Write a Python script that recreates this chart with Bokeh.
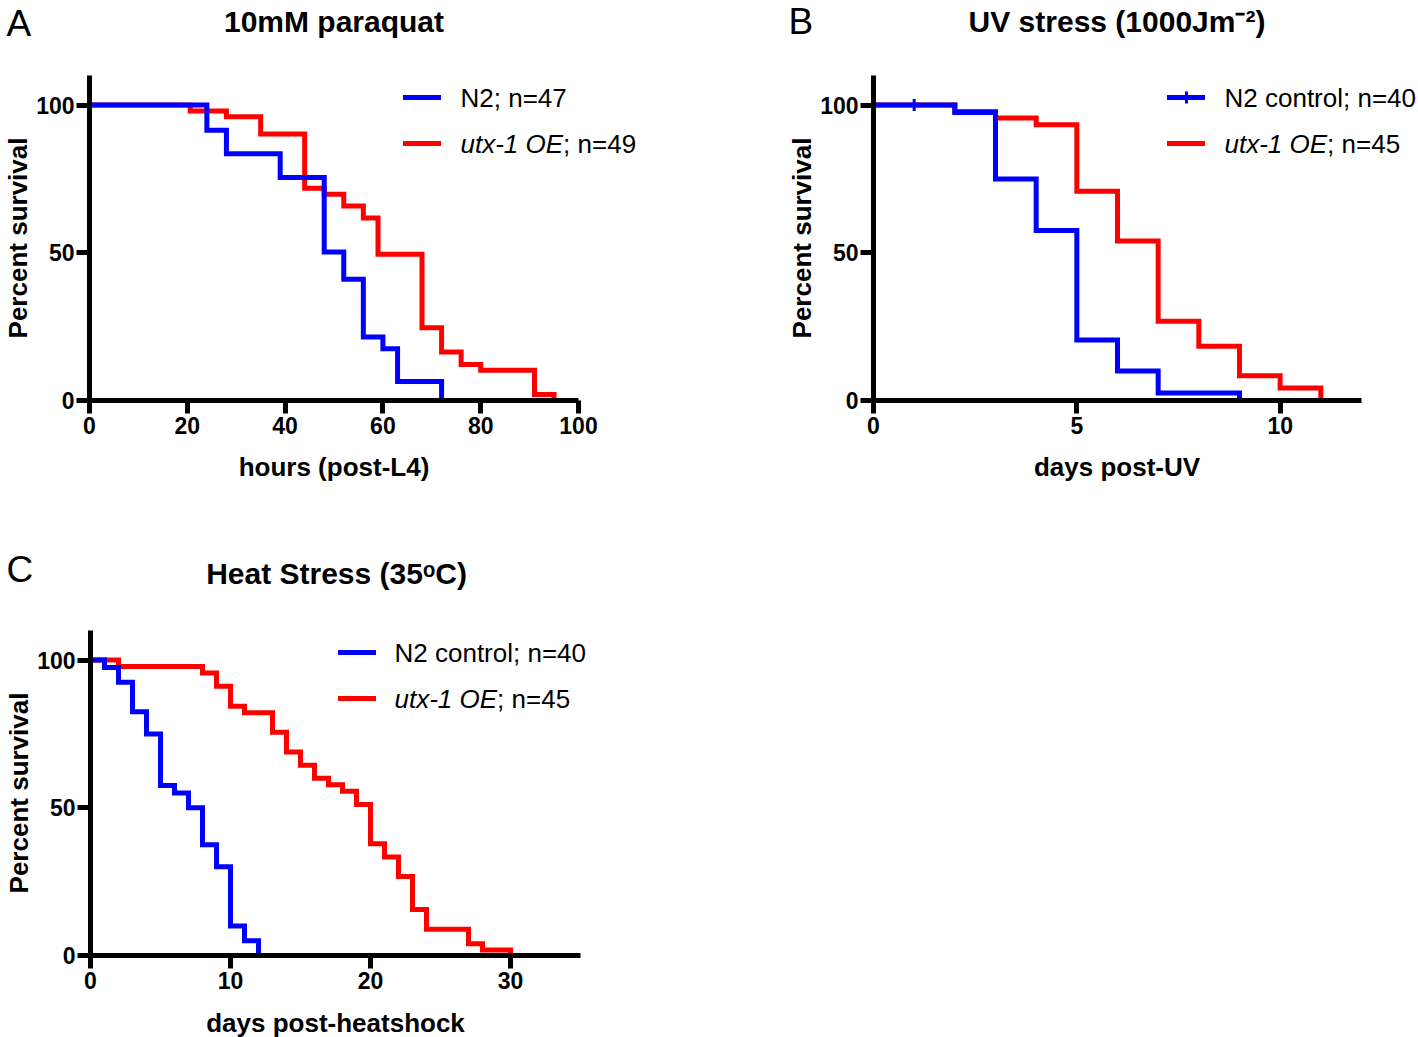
from bokeh.plotting import figure
from bokeh.models import FixedTicker, Label, Legend, LegendItem, Range1d
from bokeh.layouts import column, row
from bokeh.embed import file_html
from bokeh.resources import INLINE
from bokeh.core.properties import value

# ---------------- data ----------------
# Panel A: 10mM paraquat, hours post-L4
A_N2_t = [0, 24, 28, 39, 48, 52, 56, 60, 63, 72]
A_N2_s = [100, 91.5, 83.5, 75.5, 50.3, 41.0, 21.5, 17.5, 6.4, 0]
A_OE_t = [0, 20.6, 28, 35, 44, 48, 52, 56, 59, 68, 72, 76, 80, 91, 95]
A_OE_s = [100, 98.0, 96.0, 90.2, 71.8, 69.8, 65.8, 61.8, 49.5, 24.6, 16.4, 12.2, 10.2, 2.0, 0]
A_xticks = [0, 20, 40, 60, 80, 100]

# Panel B: UV stress, days post-UV
B_N2_t = [0, 2, 3, 4, 5, 6, 7, 9]
B_N2_s = [100, 97.5, 75.0, 57.5, 20.5, 10.0, 2.5, 0]
B_N2_cens_t = [1]
B_N2_cens_s = [100]
B_OE_t = [0, 2, 3, 4, 5, 6, 7, 8, 9, 10, 11]
B_OE_s = [100, 97.8, 95.6, 93.3, 70.8, 54.0, 26.8, 18.4, 8.4, 4.2, 0]
B_xticks = [0, 5, 10]

# Panel C: heat stress, days post-heatshock
C_N2_t = [0, 1, 2, 3, 4, 5, 6, 7, 8, 9, 10, 11, 12]
C_N2_s = [100, 97.5, 92.5, 82.5, 75.0, 57.5, 55.0, 50.0, 37.5, 30.0, 10.0, 5.0, 0]
C_OE_t = [0, 2, 8, 9, 10, 11, 13, 14, 15, 16, 17, 18, 19, 20, 21, 22, 23, 24, 27, 28, 30]
C_OE_s = [100, 97.8, 95.6, 91.1, 84.4, 82.2, 75.6, 68.9, 64.4, 60.0, 57.8, 55.6, 51.1,
          37.8, 33.3, 26.7, 15.6, 8.9, 4.0, 1.9, 0]
C_xticks = [0, 10, 20, 30]

Y_TICKS = [0, 50, 100]

FONT = "Liberation Sans"
BLUE = "#0000FF"
RED = "#FF0000"


def strip(width, height, items):
    """Text-only strip; items are (x, y_middle, text, size, style, align) in strip pixels."""
    h = figure(width=width, height=height, min_border=0,
               x_range=Range1d(0, width), y_range=Range1d(0, height),
               x_axis_type=None, y_axis_type=None,
               output_backend="svg", toolbar_location=None, tools="")
    h.outline_line_color = None
    h.xgrid.visible = False
    h.ygrid.visible = False
    for (x, y, text, size, style, align) in items:
        h.add_layout(Label(x=x, y=height - y, text=text, text_font=FONT,
                           text_font_size=f"{size}px", text_font_style=style,
                           text_align=align, text_baseline="middle",
                           text_color="black"))
    return h


def panel(g, n2_t, n2_s, oe_t, oe_s, cens_t, cens_s, n2_label, oe_rest):
    kx = g["kx"]
    ky = g["H"] / 110.0
    fw = g["fig_w"] - g["bl"]
    p = figure(frame_width=fw, frame_height=g["H"],
               min_border_left=g["bl"], min_border_top=g["bt"],
               min_border_right=0, min_border_bottom=g["bb"],
               x_range=Range1d(0, fw / kx), y_range=Range1d(0, 110),
               output_backend="svg", toolbar_location=None, tools="")
    p.outline_line_color = None
    p.xgrid.visible = False
    p.ygrid.visible = False
    for ax in (p.xaxis[0], p.yaxis[0]):
        ax.axis_line_width = 5
        ax.axis_line_color = "black"
        ax.major_tick_line_width = 5
        ax.major_tick_line_color = "black"
        ax.major_tick_out = 13
        ax.major_tick_in = 0
        ax.minor_tick_line_color = None
        ax.major_label_text_font = FONT
        ax.major_label_text_font_size = "23px"
        ax.major_label_text_font_style = "bold"
        ax.major_label_text_color = "black"
        ax.major_label_standoff = 2
        ax.axis_label_text_font = FONT
        ax.axis_label_text_font_size = "26px"
        ax.axis_label_text_font_style = "bold"
        ax.axis_label_text_color = "black"
    p.xaxis.major_label_standoff = 3
    p.xaxis.ticker = FixedTicker(ticks=g["xticks"])
    p.yaxis.ticker = FixedTicker(ticks=Y_TICKS)
    p.xaxis.bounds = (0, g["xmax"])
    p.yaxis.bounds = (0, 110)
    p.yaxis.axis_label = "Percent survival"
    p.yaxis.axis_label_standoff = 0

    r_oe = p.step(oe_t, oe_s, mode="after", line_color=RED, line_width=5,
                  line_join="miter", line_cap="round")
    r_n2 = p.step(n2_t, n2_s, mode="after", line_color=BLUE, line_width=5,
                  line_join="miter", line_cap="round")
    c_n2 = p.scatter(cens_t, cens_s, marker="cross", size=12, line_color=BLUE, line_width=3)

    FL, FB = g["FL"], g["FB"]
    leg = Legend(items=[LegendItem(label=value(" "), renderers=[r_n2, c_n2]),
                        LegendItem(label=value(" "), renderers=[r_oe])],
                 location=(g["lx"] - FL, FB - (g["ly"] - 15 + 76)),
                 orientation="vertical", padding=0, margin=0, spacing=16,
                 glyph_width=38, glyph_height=30, label_standoff=0,
                 label_width=0, label_height=30, label_text_font_size="1px",
                 background_fill_alpha=0, border_line_color=None)
    p.add_layout(leg)

    def txt(sx, sy, text, style):
        p.add_layout(Label(x=(sx - FL) / kx, y=(FB - sy) / ky, text=text,
                           text_font=FONT, text_font_size="26px", text_font_style=style,
                           text_align="left", text_baseline="middle", text_color="black"))

    tx, ly = g["tx"], g["ly"]
    txt(tx, ly, n2_label, "normal")
    txt(tx, ly + 46, "utx-1 OE", "italic")
    txt(tx + 102.6, ly + 46, oe_rest, "normal")
    return p


# geometry, in pixels of the photo
gA = dict(FL=89, FB=400 - 70, H=325, kx=4.89, xmax=100, xticks=A_xticks, fig_w=780,
          bl=89, bt=5, bb=45, lx=403, ly=97 - 70, tx=460)
gB = dict(FL=873 - 780, FB=400 - 70, H=325, kx=488 / 12, xmax=12, xticks=B_xticks, fig_w=638,
          bl=93, bt=5, bb=45, lx=1167 - 780, ly=97 - 70, tx=1224 - 780)
gC = dict(FL=90, FB=955 - 625, H=325, kx=14.0, xmax=35, xticks=C_xticks, fig_w=780,
          bl=90, bt=5, bb=45, lx=338, ly=652 - 625, tx=394)

top_strip = strip(1418, 70, [(6, 22.5, "A", 37, "normal", "left"),
                             (333.5, 21, "10mM paraquat", 30, "bold", "center"),
                             (788, 20.5, "B", 37, "normal", "left"),
                             (1116.5, 21, "UV stress (1000Jm\u207b\u00b2)", 30, "bold", "center")])

pA = panel(gA, A_N2_t, A_N2_s, A_OE_t, A_OE_s, [], [], "N2; n=47", "; n=49")
pB = panel(gB, B_N2_t, B_N2_s, B_OE_t, B_OE_s, B_N2_cens_t, B_N2_cens_s,
           "N2 control; n=40", "; n=45")

mid_strip = strip(1418, 180, [(333.5, 466 - 445, "hours (post-L4)", 26, "bold", "center"),
                              (1116.5, 466 - 445, "days post-UV", 26, "bold", "center"),
                              (6, 569 - 445, "C", 37, "normal", "left"),
                              (336, 573 - 445, "Heat Stress (35\u1d52C)", 30, "bold", "center")])

pC = panel(gC, C_N2_t, C_N2_s, C_OE_t, C_OE_s, [], [], "N2 control; n=40", "; n=45")

bottom_strip = strip(780, 37, [(335, 1022 - 1000, "days post-heatshock", 26, "bold", "center")])

layout = column(row(top_strip), row(pA, pB, spacing=0), row(mid_strip), row(pC),
                row(bottom_strip), spacing=0)
open("out.html", "w").write(file_html(layout, INLINE))
